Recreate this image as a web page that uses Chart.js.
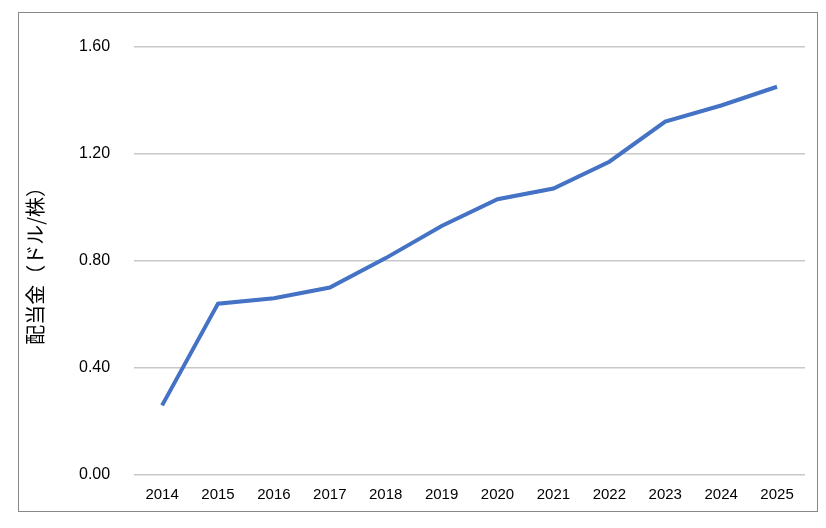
<!DOCTYPE html>
<html>
<head>
<meta charset="utf-8">
<script src="https://cdn.jsdelivr.net/npm/chart.js@4"></script>
<style>
  body { margin: 0; background: #fff; }
  #box { position: absolute; left: 18px; top: 12px; width: 800px; height: 500px; border: 1px solid #888; box-sizing: border-box; }
</style>
</head>
<body>
<div id="box"><canvas id="c"></canvas></div>
<script>
// dividend per share by year
var years = ['2014','2015','2016','2017','2018','2019','2020','2021','2022','2023','2024','2025'];
var dividends = [0.26, 0.64, 0.66, 0.70, 0.81, 0.93, 1.03, 1.07, 1.17, 1.32, 1.38, 1.45];
var yTicks = [0, 0.4, 0.8, 1.2, 1.6];

var ctx = document.getElementById('c').getContext('2d');
new Chart(ctx, {
  type: 'line',
  data: {
    labels: years,
    datasets: [{
      data: dividends,
      borderColor: '#4472C4',
      borderWidth: 4,
      pointRadius: 0,
      tension: 0
    }]
  },
  options: {
    responsive: true,
    maintainAspectRatio: false,
    animation: false,
    layout: { padding: { left: 0, right: 12, top: 20, bottom: 4 } },
    plugins: { legend: { display: false }, tooltip: { enabled: false } },
    scales: {
      x: {
        offset: true,
        grid: { display: false, offset: true },
        border: { display: false },
        ticks: { color: '#000', font: { family: 'Liberation Sans', size: 15 }, maxRotation: 0, autoSkip: false }
      },
      y: {
        min: 0, max: 1.6,
        afterBuildTicks: function(axis) { axis.ticks = yTicks.map(function(v){ return { value: v }; }); },
        grid: { color: '#c8c8c8', lineWidth: 1.5, drawTicks: false },
        border: { display: false },
        ticks: { color: '#000', padding: 24, font: { family: 'Liberation Sans', size: 16 },
                 callback: function(v){ return v.toFixed(2); } },
        title: { display: true, text: '配当金（ドル/株）', color: '#000',
                 font: { family: 'Noto Sans CJK JP', size: 20 }, padding: { bottom: 8 } }
      }
    }
  }
});
</script>
</body>
</html>
